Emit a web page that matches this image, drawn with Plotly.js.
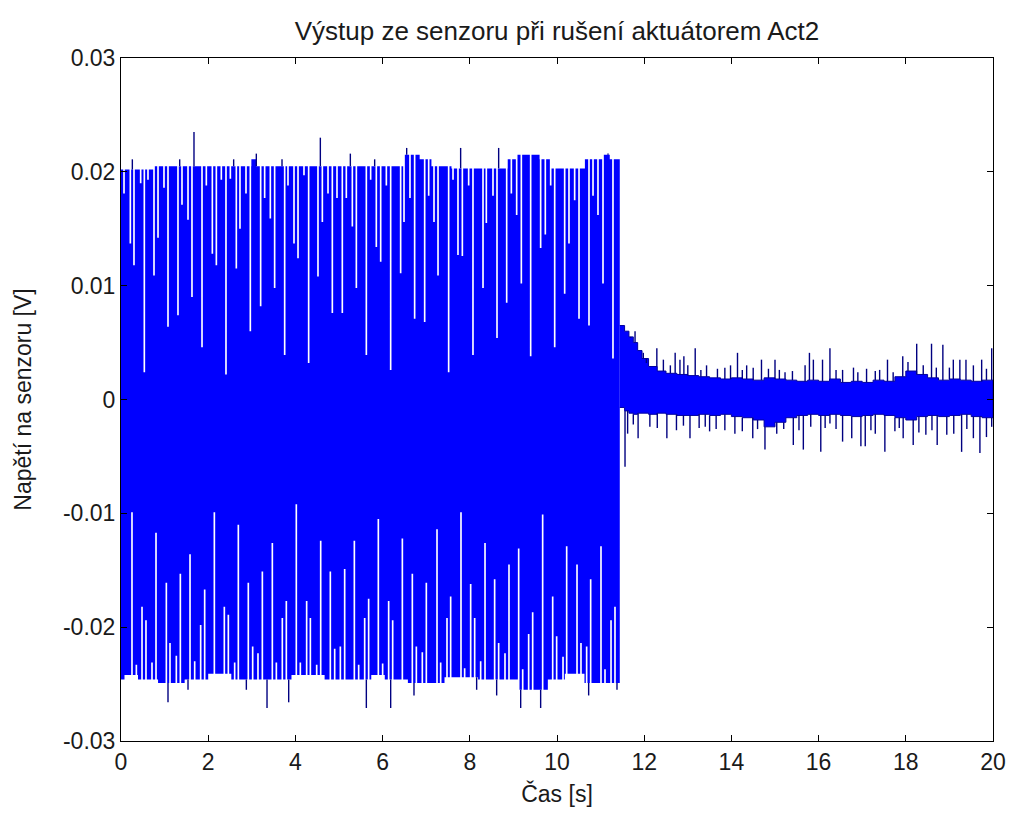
<!DOCTYPE html>
<html>
<head>
<meta charset="utf-8">
<script src="https://cdn.plot.ly/plotly-3.0.1.min.js"></script>
<style>
  html, body { margin: 0; padding: 0; background: #fff; }
  #chart { width: 1010px; height: 814px; }
</style>
</head>
<body>
<div id="chart"></div>
<script>
// ---------- DATA ----------
const chartTitle = 'Výstup ze senzoru při rušení aktuátorem Act2';
const xLabel = 'Čas [s]';
const yLabel = 'Napětí na senzoru [V]';

const xTickVals = [0, 2, 4, 6, 8, 10, 12, 14, 16, 18, 20];
const yTickVals = [-0.03, -0.02, -0.01, 0, 0.01, 0.02, 0.03];
const yTickText = ['-0.03', '-0.02', '-0.01', '0', '0.01', '0.02', '0.03'];

// Phase 1 (strong disturbance, 0 .. 11.44 s)
const phase1Start = 0;
const phase1End = 11.44;

// upper envelope level (step changes)
const topLvlT = [0, 0.77, 2.99, 3.10, 6.51, 6.85, 7.12, 7.58, 8.87, 9.07, 9.60, 9.87, 10.64, 11.05, 11.21];
const topLvlV = [0.0202, 0.0205, 0.0211, 0.0205, 0.0215, 0.0211, 0.0205, 0.0203, 0.0211, 0.0215, 0.0211, 0.0203, 0.0211, 0.0215, 0.0211];

// lower envelope level (step changes)
const botLvlT = [0, 0.08, 0.39, 0.85, 1.46, 2.00, 2.53, 3.91, 4.67, 5.74, 6.05, 6.58, 7.42, 8.19, 9.11, 9.79, 10.18, 10.63];
const botLvlV = [-0.0246, -0.0242, -0.0246, -0.0249, -0.0246, -0.0241, -0.0246, -0.0242, -0.0246, -0.0242, -0.0246, -0.0249, -0.0244, -0.0246, -0.0255, -0.0246, -0.0241, -0.0249];

// moments where the oscillation did not reach the upper envelope (value reached)
const topDipT = [0.069,0.214,0.298,0.451,0.535,0.619,0.757,0.849,0.986,1.078,1.307,1.399,1.537,1.628,1.858,1.957,2.095,2.187,2.301,2.408,2.508,2.645,2.729,2.867,2.966,3.203,3.295,3.425,3.524,3.754,3.830,3.968,4.060,4.197,4.304,4.518,4.618,4.748,4.847,4.954,5.076,5.168,5.306,5.398,5.627,5.726,5.856,5.956,6.086,6.185,6.414,6.491,6.628,6.735,6.965,7.057,7.179,7.271,7.515,7.615,7.729,7.829,7.974,8.073,8.303,8.379,8.532,8.624,8.846,8.953,9.075,9.182,9.396,9.625,9.732,9.855,9.947,10.176,10.275,10.405,10.505,10.734,10.826,10.940,11.055,11.284];
const topDipV = [0.0181,0.0137,0.0118,0.0190,0.0024,0.0193,0.0109,0.0142,0.0186,0.0064,0.0074,0.0171,0.0158,0.0090,0.0046,0.0188,0.0128,0.0118,0.0193,0.0022,0.0194,0.0115,0.0150,0.0181,0.0060,0.0082,0.0177,0.0159,0.0098,0.0039,0.0188,0.0137,0.0124,0.0197,0.0032,0.0108,0.0156,0.0181,0.0076,0.0177,0.0076,0.0177,0.0152,0.0098,0.0039,0.0193,0.0134,0.0121,0.0188,0.0026,0.0111,0.0156,0.0177,0.0071,0.0068,0.0179,0.0156,0.0109,0.0024,0.0193,0.0127,0.0126,0.0188,0.0039,0.0098,0.0155,0.0179,0.0054,0.0085,0.0181,0.0162,0.0102,0.0038,0.0133,0.0145,0.0188,0.0046,0.0093,0.0137,0.0175,0.0071,0.0065,0.0179,0.0162,0.0102,0.0036];

// moments where the oscillation did not reach the lower envelope
const botDipT = [0.252,0.352,0.482,0.573,0.711,0.803,1.040,1.124,1.269,1.361,1.583,1.690,1.827,1.919,2.141,2.370,2.462,2.607,2.691,2.920,3.020,3.142,3.242,3.471,3.563,3.700,3.792,4.021,4.113,4.258,4.343,4.488,4.580,4.801,4.901,5.031,5.130,5.352,5.451,5.589,5.680,5.902,6.001,6.139,6.231,6.453,6.682,6.774,6.911,7.003,7.248,7.332,7.477,7.561,7.798,7.882,8.020,8.112,8.249,8.349,8.570,8.662,8.807,8.899,9.121,9.213,9.350,9.442,9.671,9.901,9.992,10.138,10.222,10.459,10.550,10.680,10.772,11.009,11.101,11.239,11.330];
const botDipV = [-0.0099,-0.0233,-0.0182,-0.0194,-0.0231,-0.0117,-0.0161,-0.0214,-0.0225,-0.0153,-0.0136,-0.0230,-0.0198,-0.0167,-0.0099,-0.0182,-0.0189,-0.0231,-0.0110,-0.0161,-0.0217,-0.0223,-0.0151,-0.0126,-0.0231,-0.0192,-0.0177,-0.0092,-0.0231,-0.0177,-0.0192,-0.0233,-0.0124,-0.0151,-0.0219,-0.0217,-0.0149,-0.0124,-0.0233,-0.0192,-0.0175,-0.0105,-0.0232,-0.0177,-0.0194,-0.0122,-0.0153,-0.0217,-0.0222,-0.0161,-0.0114,-0.0231,-0.0192,-0.0173,-0.0099,-0.0236,-0.0162,-0.0192,-0.0230,-0.0126,-0.0158,-0.0214,-0.0223,-0.0145,-0.0131,-0.0237,-0.0206,-0.0187,-0.0101,-0.0173,-0.0208,-0.0226,-0.0129,-0.0145,-0.0214,-0.0217,-0.0158,-0.0129,-0.0237,-0.0194,-0.0182];

// peaks above / below the envelopes in phase 1
const topPeakT = [0.260, 1.346, 1.674, 2.584, 3.104, 3.693, 4.572, 5.260, 5.818, 6.552, 7.790, 8.662, 11.17];
const topPeakV = [0.0211, 0.0211, 0.0235, 0.0211, 0.0216, 0.0211, 0.0230, 0.0216, 0.0211, 0.0221, 0.0221, 0.0221, 0.0216];
const botPeakT = [1.078, 1.537, 2.875, 3.349, 3.846, 5.627, 6.185, 6.720, 8.157, 8.616, 9.167, 9.625, 10.726, 11.376];
const botPeakV = [-0.0266, -0.0255, -0.0255, -0.0271, -0.0266, -0.0271, -0.0271, -0.0260, -0.0255, -0.0260, -0.0271, -0.0271, -0.0260, -0.0255];

// Phase 2 (after the disturbance is suppressed, 11.44 .. 20 s)
const p2T   = [11.44, 11.55, 11.65, 11.75, 11.85, 11.95, 12.1, 12.3, 12.5, 12.75, 13.0, 13.25, 13.5, 13.75, 14.0, 14.25, 14.5, 14.75, 15.0, 15.25, 15.5, 15.75, 16.0, 16.25, 16.5, 16.75, 17.0, 17.25, 17.5, 17.75, 18.0, 18.25, 18.5, 18.75, 19.0, 19.25, 19.5, 19.75, 20.0];
const p2Top = [0.0065, 0.0060, 0.0055, 0.0050, 0.0043, 0.0036, 0.0029, 0.0025, 0.0023, 0.0022, 0.0021, 0.0020, 0.0019, 0.0018, 0.0019, 0.0018, 0.0017, 0.0019, 0.0018, 0.0017, 0.0016, 0.0017, 0.0016, 0.0018, 0.0015, 0.0016, 0.0015, 0.0017, 0.0016, 0.0020, 0.0025, 0.0022, 0.0019, 0.0017, 0.0018, 0.0017, 0.0016, 0.0017, 0.0017];
const p2Bot = [-0.0007, -0.0010, -0.0012, -0.0013, -0.0012, -0.0012, -0.0013, -0.0012, -0.0013, -0.0014, -0.0014, -0.0013, -0.0014, -0.0013, -0.0015, -0.0016, -0.0018, -0.0024, -0.0020, -0.0016, -0.0014, -0.0013, -0.0014, -0.0013, -0.0014, -0.0015, -0.0014, -0.0013, -0.0014, -0.0016, -0.0018, -0.0015, -0.0014, -0.0015, -0.0014, -0.0013, -0.0015, -0.0016, -0.0018];

const p2UpT = [11.69,11.79,11.98,12.05,12.29,12.44,12.6,12.71,12.82,12.91,13.0,13.17,13.3,13.43,13.68,13.85,13.98,14.14,14.25,14.35,14.5,14.69,14.85,15.0,15.1,15.23,15.4,15.69,15.79,15.88,16.09,16.26,16.4,16.55,16.8,16.9,17.1,17.3,17.4,17.58,17.71,17.93,18.05,18.25,18.4,18.59,18.7,18.85,19.0,19.09,19.24,19.38,19.55,19.74,19.85,19.97];
const p2UpV = [0.0054,0.0060,0.0041,0.0032,0.0045,0.0035,0.0030,0.0041,0.0035,0.0038,0.0030,0.0045,0.0026,0.0030,0.0027,0.0028,0.0030,0.0041,0.0026,0.0030,0.0028,0.0035,0.0027,0.0035,0.0026,0.0024,0.0025,0.0030,0.0041,0.0035,0.0035,0.0045,0.0026,0.0026,0.0028,0.0024,0.0027,0.0025,0.0026,0.0035,0.0024,0.0038,0.0033,0.0049,0.0030,0.0049,0.0028,0.0048,0.0028,0.0035,0.0035,0.0035,0.0030,0.0035,0.0027,0.0045];
const p2DnT = [11.56,11.62,11.75,11.86,12.13,12.3,12.52,12.74,12.9,13.05,13.26,13.4,13.5,13.65,13.85,14.08,14.25,14.49,14.6,14.77,15.04,15.2,15.42,15.55,15.65,15.82,16.05,16.15,16.26,16.4,16.55,16.76,16.97,17.07,17.2,17.3,17.52,17.75,17.85,17.94,18.17,18.3,18.46,18.6,18.72,18.94,19.1,19.28,19.4,19.55,19.70,19.85,19.97];
const p2DnV = [-0.0059,-0.0030,-0.0022,-0.0034,-0.0024,-0.0025,-0.0034,-0.0027,-0.0023,-0.0034,-0.0025,-0.0024,-0.0028,-0.0026,-0.0027,-0.0030,-0.0028,-0.0034,-0.0026,-0.0044,-0.0030,-0.0026,-0.0040,-0.0027,-0.0044,-0.0024,-0.0046,-0.0025,-0.0021,-0.0026,-0.0037,-0.0034,-0.0041,-0.0041,-0.0027,-0.0030,-0.0046,-0.0028,-0.0025,-0.0034,-0.0040,-0.0029,-0.0031,-0.0027,-0.0040,-0.0031,-0.0030,-0.0046,-0.0026,-0.0034,-0.0047,-0.0033,-0.0024];

// ---------- helpers ----------
const DIP_W = 0.038; // width of a gap in seconds (style)

function stepAt(T, V, t) {
  let v = V[0];
  for (let i = 0; i < T.length; i++) if (T[i] <= t + 1e-9) v = V[i];
  return v;
}

// build a stepped edge path from level steps and dips
function edgePath(lvlT, lvlV, dipT, dipV, t0, t1) {
  const ev = new Set([t0, t1]);
  lvlT.forEach(t => { if (t > t0 && t < t1) ev.add(t); });
  dipT.forEach(t => { ev.add(t - DIP_W / 2); ev.add(t + DIP_W / 2); });
  const times = Array.from(ev).filter(t => t >= t0 && t <= t1).sort((a, b) => a - b);
  const valAfter = (e) => {
    for (let j = 0; j < dipT.length; j++) {
      if (e >= dipT[j] - DIP_W / 2 - 1e-9 && e < dipT[j] + DIP_W / 2 - 1e-9) return dipV[j];
    }
    return stepAt(lvlT, lvlV, e);
  };
  const xs = [], ys = [];
  for (let k = 0; k < times.length - 1; k++) {
    const v = valAfter(times[k]);
    xs.push(times[k], times[k + 1]);
    ys.push(v, v);
  }
  return { xs, ys };
}

function polygon(top, bot) {
  return {
    x: top.xs.concat(bot.xs.slice().reverse()),
    y: top.ys.concat(bot.ys.slice().reverse())
  };
}

function spikes(T, V, baseT, baseV) {
  const x = [], y = [];
  T.forEach((t, i) => { x.push(t, t, null); y.push(stepAt(baseT, baseV, t), V[i], null); });
  return { x, y };
}

// ---------- traces ----------
const blue = '#0000ff';
const navy = '#000080';

const p1Top = edgePath(topLvlT, topLvlV, topDipT, topDipV, phase1Start, phase1End);
const p1Bot = edgePath(botLvlT, botLvlV, botDipT, botDipV, phase1Start, phase1End);
const poly1 = polygon(p1Top, p1Bot);

const p2TopPath = edgePath(p2T, p2Top, [], [], phase1End, 20);
const p2BotPath = edgePath(p2T, p2Bot, [], [], phase1End, 20);
const poly2 = polygon(p2TopPath, p2BotPath);

const s1u = spikes(topPeakT, topPeakV, topLvlT, topLvlV);
const s1d = spikes(botPeakT, botPeakV, botLvlT, botLvlV);
const s2u = spikes(p2UpT, p2UpV, p2T, p2Top);
const s2d = spikes(p2DnT, p2DnV, p2T, p2Bot);

const traces = [
  { type: 'scatter', mode: 'lines', x: poly1.x, y: poly1.y, fill: 'toself', fillcolor: blue,
    line: { color: blue, width: 0 }, hoverinfo: 'skip', showlegend: false },
  { type: 'scatter', mode: 'lines', x: poly2.x, y: poly2.y, fill: 'toself', fillcolor: blue,
    line: { color: '#0000a0', width: 1 }, hoverinfo: 'skip', showlegend: false },
  { type: 'scatter', mode: 'lines', x: s1u.x.concat(s1d.x), y: s1u.y.concat(s1d.y),
    line: { color: navy, width: 1.4 }, hoverinfo: 'skip', showlegend: false, connectgaps: false },
  { type: 'scatter', mode: 'lines', x: s2u.x.concat(s2d.x), y: s2u.y.concat(s2d.y),
    line: { color: navy, width: 1.4 }, hoverinfo: 'skip', showlegend: false, connectgaps: false }
];

const fontFam = 'Liberation Sans, Arial, sans-serif';
const txtColor = '#1a1a1a';
const layout = {
  width: 1010, height: 814,
  paper_bgcolor: '#ffffff', plot_bgcolor: '#ffffff',
  margin: { l: 121, r: 17, t: 58, b: 73, pad: 0 },
  font: { family: fontFam, size: 23, color: txtColor },
  showlegend: false,
  title: { text: chartTitle, x: 0.5, xref: 'paper', xanchor: 'center', y: 0.962, yref: 'container', yanchor: 'middle',
           font: { family: fontFam, size: 26, color: txtColor } },
  xaxis: {
    range: [0, 20], tickvals: xTickVals, ticktext: xTickVals.map(String),
    ticks: 'inside', ticklen: 6, tickcolor: '#000', tickwidth: 1,
    showline: true, linecolor: '#000', linewidth: 1, mirror: 'ticks',
    showgrid: false, zeroline: false, fixedrange: true,
    tickfont: { family: fontFam, size: 23, color: txtColor },
    title: { text: xLabel, standoff: 12, font: { family: fontFam, size: 23, color: txtColor } }
  },
  yaxis: {
    range: [-0.03, 0.03], tickvals: yTickVals, ticktext: yTickText,
    ticks: 'inside', ticklen: 6, tickcolor: '#000', tickwidth: 1,
    showline: true, linecolor: '#000', linewidth: 1, mirror: 'ticks',
    showgrid: false, zeroline: false, fixedrange: true,
    tickfont: { family: fontFam, size: 23, color: txtColor },
    title: { text: yLabel, standoff: 24, font: { family: fontFam, size: 23, color: txtColor } }
  }
};

Plotly.newPlot('chart', traces, layout, { staticPlot: true, displayModeBar: false });
</script>
</body>
</html>
